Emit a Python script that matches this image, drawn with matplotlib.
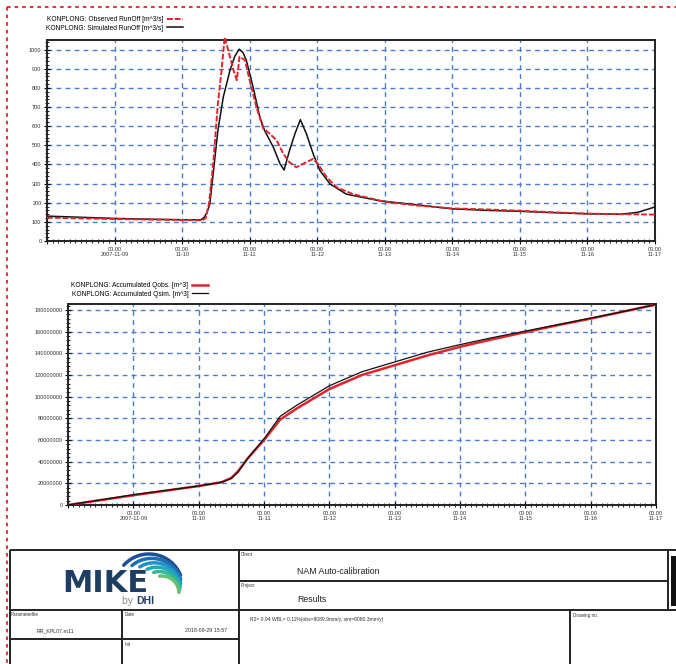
import numpy as np
import matplotlib
matplotlib.use("Agg")
import matplotlib.pyplot as plt
import matplotlib.dates as mdates
from matplotlib.ticker import FixedLocator, FixedFormatter, MultipleLocator
from datetime import datetime

plt.rcParams['font.family'] = ['Liberation Sans', 'DejaVu Sans']

# ---------------- data ----------------
start = datetime(2007, 11, 8)
tick_labels = ["", "00.00\n2007-11-09", "00.00\n11-10", "00.00\n11-11", "00.00\n11-12",
               "00.00\n11-13", "00.00\n11-14", "00.00\n11-15", "00.00\n11-16", "00.00\n11-17"]

sim_day = [0.0, 0.5, 1.0, 1.5, 2.0, 2.28, 2.33, 2.37, 2.41, 2.46, 2.53, 2.61, 2.71, 2.78, 2.845,
           2.90, 2.95, 3.05, 3.15, 3.22, 3.35, 3.45, 3.51, 3.59, 3.67, 3.75, 3.84, 3.94, 4.04,
           4.19, 4.43, 4.68, 4.93, 5.5, 6.0, 6.5, 7.0, 7.5, 8.0, 8.5, 8.75, 9.0]
sim_q = [130, 124, 118, 114, 111, 111, 125, 150, 194, 352, 578, 753, 893, 965, 1002,
         985, 945, 805, 648, 578, 490, 403, 371, 473, 560, 634, 560, 455, 368,
         298, 245, 227, 210, 188, 168, 160, 155, 148, 142, 140, 150, 178]

obs_day = [0.0, 0.5, 1.0, 1.5, 2.0, 2.3, 2.35, 2.40, 2.46, 2.53, 2.58, 2.63, 2.68, 2.76, 2.81,
           2.85, 2.93, 3.0, 3.10, 3.20, 3.30, 3.40, 3.50, 3.59, 3.69, 3.79, 3.94, 4.01, 4.14,
           4.29, 4.53, 4.83, 5.0, 5.5, 6.0, 6.5, 7.0, 7.5, 8.0, 8.5, 9.0]
obs_q = [122, 118, 115, 112, 110, 108, 120, 200, 404, 720, 877, 1065, 1000, 893, 840,
         963, 945, 840, 700, 588, 560, 525, 455, 411, 385, 403, 429, 403, 333,
         280, 245, 219, 205, 185, 170, 165, 158, 150, 143, 140, 138]

acc_day = [0, 1, 2, 2.35, 2.5, 2.6, 2.75, 3.0, 3.25, 3.5, 3.75, 4.0, 4.5, 5.0, 5.5, 6.0,
           6.5, 7.0, 7.5, 8.0, 8.5, 9.0]
acc_obs = [0, 9.0, 17.5, 21, 25, 31, 43, 60, 79, 89, 98, 107, 120, 129, 138, 146,
           153, 159.5, 166, 172, 178.5, 185]
acc_sim = [0, 9.5, 17.5, 21, 24.5, 30, 43, 61, 82, 92, 101, 110, 123, 132, 141, 148,
           154.5, 160.5, 166.5, 172.5, 178.5, 185]

top_yticks = [0, 100, 200, 300, 400, 500, 600, 700, 800, 900, 1000]
bot_yticks = [0, 20e6, 40e6, 60e6, 80e6, 100e6, 120e6, 140e6, 160e6, 180e6]

# ---------------- figure ----------------
W, H = 676, 664
fig = plt.figure(figsize=(W / 100, H / 100), dpi=100)
fig.patch.set_facecolor("white")

base = mdates.date2num(start)
grid_c = "#4a7bcc"
red = "#e0242a"


def style_axis(ax, yticks, ymax, yfmt):
    ax.set_xlim(base, base + 9)
    ax.set_ylim(0, ymax)
    ax.xaxis.set_major_locator(FixedLocator([base + i for i in range(10)]))
    ax.xaxis.set_major_formatter(FixedFormatter(tick_labels))
    ax.xaxis.set_minor_locator(MultipleLocator(1 / 12))
    ax.yaxis.set_major_locator(FixedLocator(yticks))
    ax.yaxis.set_major_formatter(FixedFormatter([yfmt(v) for v in yticks]))
    ax.yaxis.set_minor_locator(MultipleLocator(yticks[1] / 5))
    ax.tick_params(which="major", direction="inout", length=4, width=0.8, labelsize=4,
                   labelcolor="#333333", pad=2)
    ax.tick_params(which="minor", direction="inout", length=2.5, width=0.6)
    ax.tick_params(axis="x", which="both", top=False)
    ax.tick_params(axis="y", which="both", right=False)
    for s in ax.spines.values():
        s.set_linewidth(1.4)
        s.set_color("#222222")
    ax.grid(True, which="major", color=grid_c, linestyle=(0, (3.5, 3)), linewidth=1.0)
    for lab in ax.get_xticklabels():
        lab.set_linespacing(1.1)


# Top axes
ax1 = fig.add_axes([47 / W, 1 - 241 / H, 608 / W, 201 / H])
style_axis(ax1, top_yticks, 1050, lambda v: f"{int(v)}")
ax1.plot(base + np.array(sim_day), sim_q, color="#111111", lw=1.1, zorder=3,
         label="KONPLONG: Simulated RunOff [m^3/s]")
ax1.plot(base + np.array(obs_day), obs_q, color=red, lw=1.4, linestyle=(0, (3, 1)),
         zorder=4, clip_on=False, label="KONPLONG: Observed RunOff [m^3/s]")

# Bottom axes
ax2 = fig.add_axes([68 / W, 1 - 505 / H, 588 / W, 201 / H])
style_axis(ax2, bot_yticks, 185.5e6, lambda v: f"{int(v)}")
ax2.plot(base + np.array(acc_day), np.array(acc_obs) * 1e6, color=red, lw=1.8, zorder=3,
         label="KONPLONG: Accumulated Qobs. [m^3]")
ax2.plot(base + np.array(acc_day), np.array(acc_sim) * 1e6, color="#111111", lw=0.9, zorder=4,
         label="KONPLONG: Accumulated Qsim. [m^3]")

# Legends
h1, l1 = ax1.get_legend_handles_labels()
fig.legend([h1[1], h1[0]], [l1[1], l1[0]], loc="upper left", bbox_to_anchor=(43 / W, 1 - 13 / H),
           frameon=False, fontsize=4.8, markerfirst=False, handlelength=2.4,
           labelspacing=0.2, borderpad=0, handletextpad=0.5)
h2, l2 = ax2.get_legend_handles_labels()
fig.legend(h2, l2, loc="upper left", bbox_to_anchor=(68 / W, 1 - 279 / H),
           frameon=False, fontsize=4.8, markerfirst=False, handlelength=2.4,
           labelspacing=0.2, borderpad=0, handletextpad=0.5)

# ---------------- overlay: border + title block ----------------
ov = fig.add_axes([0, 0, 1, 1], zorder=10)
ov.set_xlim(0, W)
ov.set_ylim(H, 0)
ov.axis("off")
ov.patch.set_alpha(0)

# red dotted border
ov.plot([7, W], [7, 7], color=red, lw=1.3, linestyle=(0, (2, 2.2)))
ov.plot([7, 7], [7, H], color=red, lw=1.3, linestyle=(0, (2, 2.2)))

k = "#222222"
lw = 1.4
def seg(x0, y0, x1, y1):
    ov.plot([x0, x1], [y0, y1], color=k, lw=lw, solid_capstyle="butt")

seg(10, 550, W, 550)
seg(239, 581, 668, 581)
seg(10, 610, W, 610)
seg(10, 639, 239, 639)
seg(10, 550, 10, H)
seg(239, 550, 239, H)
seg(122, 610, 122, H)
seg(570, 610, 570, H)
seg(668, 550, 668, 610)
ov.add_patch(plt.Rectangle((671, 556), 5, 50, color="#111111", lw=0))

small = dict(fontsize=3.3, color="#333333", va="center", ha="left")
ov.text(241, 555, "Client", **small)
ov.text(241, 585, "Project", **small)
ov.text(11, 615, "Parameterfile", **small)
ov.text(125, 615, "Date", **small)
ov.text(125, 644, "Init", **small)
ov.text(573, 615, "Drawing no.", **small)
ov.text(297, 572, "NAM Auto-calibration", fontsize=6.3, color="#222222", va="center", ha="left")
ov.text(297, 600, "Results", fontsize=6.3, color="#222222", va="center", ha="left")
ov.text(55, 631, "RR_KPL07.m11", fontsize=3.8, color="#333333", va="center", ha="center")
ov.text(206, 631, "2018-09-29 15:57", fontsize=3.8, color="#333333", va="center", ha="center")
ov.text(250, 620, "R2= 0.94 WBL= 0.11%(obs=8089.9mm/y, sim=8080.3mm/y)", fontsize=3.6,
        color="#333333", va="center", ha="left")

# MIKE logo
navy = "#1d3d63"
ov.text(105, 583, "MIKE", fontsize=22, fontweight="bold", color=navy, va="center", ha="center",
        family="DejaVu Sans")
ov.text(136, 601, "by ", fontsize=7.5, color="#8a8f99", va="center", ha="right")
ov.text(136, 601, "DHI", fontsize=7.5, fontweight="bold", color=navy, va="center", ha="left")
wave_cols = ["#1c4f9c", "#1f6fb5", "#1f93c6", "#22aab8", "#33b69a", "#62c070"]
for i, c in enumerate(wave_cols):
    r = 34 - 3.4 * i
    cx, cy = 149 + 2.6 * i, 588 + 1.0 * i
    t = np.linspace(np.radians(22 - 4 * i), np.radians(138 - 8 * i), 60)
    ov.plot(cx + r * np.cos(t), cy - r * np.sin(t), color=c, lw=2.5,
            solid_capstyle="round")

fig.savefig("out.png", dpi=100, facecolor="white")
